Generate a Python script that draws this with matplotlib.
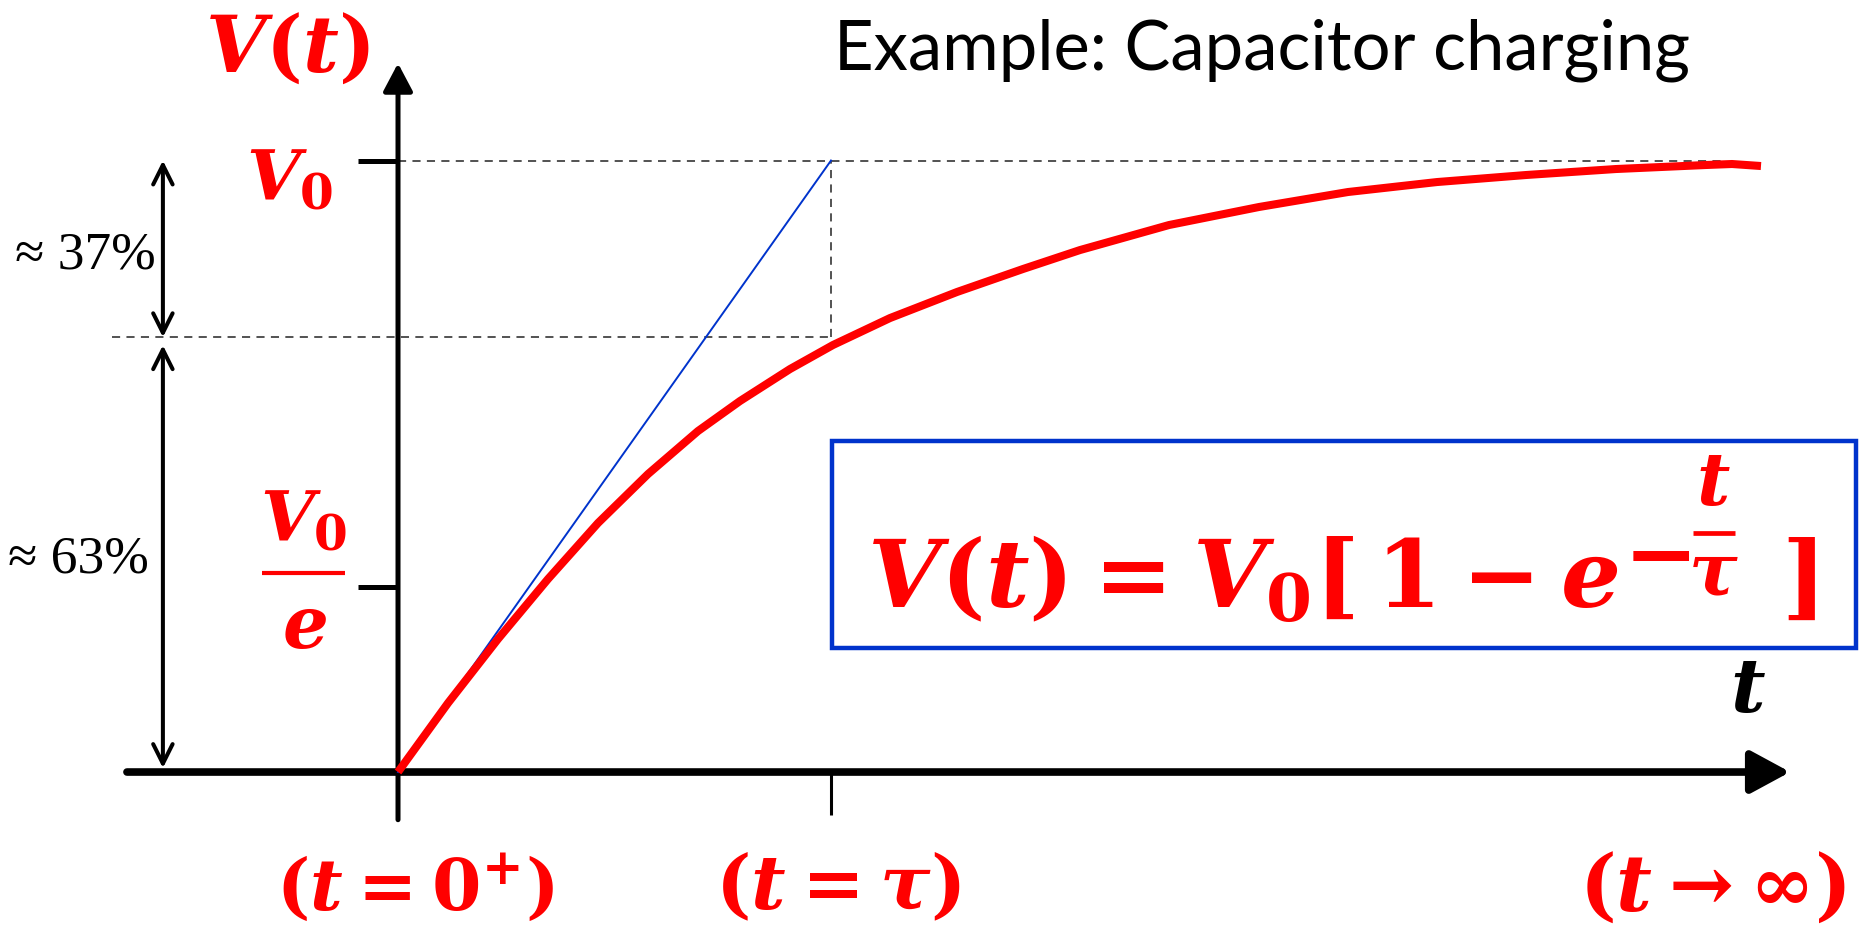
import numpy as np
import matplotlib.pyplot as plt
from matplotlib.patches import Rectangle

plt.rcParams['mathtext.fontset'] = 'custom'
plt.rcParams['mathtext.rm'] = 'DejaVu Serif:bold'
plt.rcParams['mathtext.it'] = 'DejaVu Serif:italic:bold'
plt.rcParams['mathtext.bf'] = 'DejaVu Serif:bold'

# charging curve: time in units of tau, voltage in units of V0
t_curve = np.array([0, 0.1155, 0.2309, 0.3464, 0.4619, 0.5774, 0.6928, 0.7898,
                    0.9053, 1.0046, 1.1363, 1.2910, 1.4434, 1.5751, 1.7806, 1.9885,
                    2.1940, 2.3995, 2.6051, 2.8129, 3.0185, 3.0808, 3.1478])
v_curve = np.array([0, 0.1128, 0.2175, 0.3156, 0.4072, 0.4873, 0.5576, 0.6067,
                    0.6590, 0.6983, 0.7424, 0.7850, 0.8226, 0.8536, 0.8945, 0.9240,
                    0.9485, 0.9648, 0.9763, 0.9861, 0.9926, 0.9943, 0.9910])

# reference levels
v_full = 1.0
v_tau = 0.711       # dashed level at t = tau
v_e_tick = 0.303    # tick labelled V0/e
t_tau = 1.0

# tangent at the origin
t_tangent = [0, t_tau]
v_tangent = [0, v_full]

red = '#ff0000'
blue = '#0033cc'
dash_col = '#444444'

fig = plt.figure(figsize=(18.75, 9.26), dpi=100)
ax = fig.add_axes([0, 0, 1, 1])
ax.set_xlim(-0.9192, 3.4111)
ax.set_ylim(-0.2518, 1.2625)
ax.axis('off')
px = (3.4111 + 0.9192) / 1875   # one pixel along the time axis

# axes with arrow heads
ax.annotate('', xy=(3.215, 0), xytext=(-0.626, 0),
            arrowprops=dict(arrowstyle='-|>,head_length=24,head_width=13',
                            mutation_scale=1, lw=5.5, color='black',
                            shrinkA=0, shrinkB=0))
ax.annotate('', xy=(0, 1.159), xytext=(0, -0.078),
            arrowprops=dict(arrowstyle='-|>,head_length=17,head_width=9',
                            mutation_scale=1, lw=3.6, color='black',
                            shrinkA=0, shrinkB=0))

# ticks
ax.plot([-0.092, 0], [v_full, v_full], color='black', lw=3.6, solid_capstyle='butt')
ax.plot([-0.092, 0], [v_e_tick, v_e_tick], color='black', lw=3.6, solid_capstyle='butt')
ax.plot([t_tau, t_tau], [0, -0.070], color='black', lw=2.2, solid_capstyle='butt')

# dashed guides
ax.plot([0, 3.06], [v_full, v_full], color=dash_col, lw=1.3, dashes=(4.5, 3.5))
ax.plot([-0.66, t_tau], [v_tau, v_tau], color=dash_col, lw=1.3, dashes=(4.5, 3.5))
ax.plot([t_tau, t_tau], [v_tau, v_full], color=dash_col, lw=1.3, dashes=(4.5, 3.5))

# percentage arrows on the left
ax.annotate('', xy=(-0.543, v_full), xytext=(-0.543, v_tau),
            arrowprops=dict(arrowstyle='<->,head_length=14,head_width=7',
                            mutation_scale=1, lw=2.9, color='black',
                            shrinkA=0, shrinkB=0))
ax.annotate('', xy=(-0.543, 0.698), xytext=(-0.543, 0.0065),
            arrowprops=dict(arrowstyle='<->,head_length=14,head_width=7',
                            mutation_scale=1, lw=2.9, color='black',
                            shrinkA=0, shrinkB=0))

# tangent and charging curve
ax.plot(t_tangent, v_tangent, color=blue, lw=1.4, zorder=3)
ax.plot(t_curve, v_curve, color=red, lw=5.8, zorder=4, solid_capstyle='butt',
        solid_joinstyle='round')

# formula box
ax.add_patch(Rectangle((1.002, 0.203), 2.365, 0.338, fill=False,
                       edgecolor=blue, lw=3.2, zorder=2))
main = ax.text(1.083, 0.268, r'$V(t) = V_0[\,1 - e$', color=red, fontsize=68,
               ha='left', va='baseline')

# the exponent -t/tau is laid out by hand after the "e"
fig.canvas.draw()
bb = main.get_window_extent()
x_e = ax.transData.inverted().transform((bb.x1, bb.y0))[0]
v_bar = 0.391
ax.text(x_e + 4 * px, v_bar - 0.041, r'$-$', color=red, fontsize=64,
        ha='left', va='center')
bar_x0 = x_e + 74 * px
bar_x1 = bar_x0 + 42 * px
ax.plot([bar_x0, bar_x1], [v_bar, v_bar], color=red, lw=3.4, solid_capstyle='butt')
ax.text((bar_x0 + bar_x1) / 2, 0.468, r'$t$', color=red, fontsize=52,
        ha='center', va='center')
ax.text((bar_x0 + bar_x1) / 2, 0.321, r'$\tau$', color=red, fontsize=52,
        ha='center', va='center')
ax.text(x_e + 162 * px, 0.268, r'$]$', color=red, fontsize=68, ha='left', va='baseline')

# axis labels
ax.text(-0.256, 1.181, r'$V(t)$', color=red, fontsize=56, ha='center', va='center')
ax.text(-0.249, 0.968, r'$V_0$', color=red, fontsize=50, ha='center', va='center')
ax.text(3.118, 0.131, r'$t$', color='black', fontsize=54, ha='center', va='center')

# V0 / e written as a stacked fraction
ax.text(-0.218, 0.379, r'$V_0$', color=red, fontsize=50, ha='center', va='baseline')
ax.plot([-0.314, -0.122], [0.325, 0.325], color=red, lw=3.0, solid_capstyle='butt')
ax.text(-0.217, 0.235, r'$e$', color=red, fontsize=52, ha='center', va='center')

ax.text(-0.723, 0.845, '≈ 37%', fontsize=38.5, ha='center', va='center',
        family=['Liberation Serif', 'DejaVu Serif'])
ax.text(-0.739, 0.347, '≈ 63%', fontsize=38.5, ha='center', va='center',
        family=['Liberation Serif', 'DejaVu Serif'])

ax.text(1.995, 1.181, 'Example: Capacitor charging', fontsize=49.5, ha='center',
        va='center', family='Lato')

ax.text(0.04, -0.191, r'$(t = 0^{+})$', color=red, fontsize=51, ha='center', va='center')
ax.text(1.016, -0.191, r'$(t = \tau)$', color=red, fontsize=54, ha='center', va='center')
ax.text(3.035, -0.191, r'$(t \rightarrow \infty)$', color=red, fontsize=56,
        ha='center', va='center')

fig.savefig('out.png', dpi=100)
